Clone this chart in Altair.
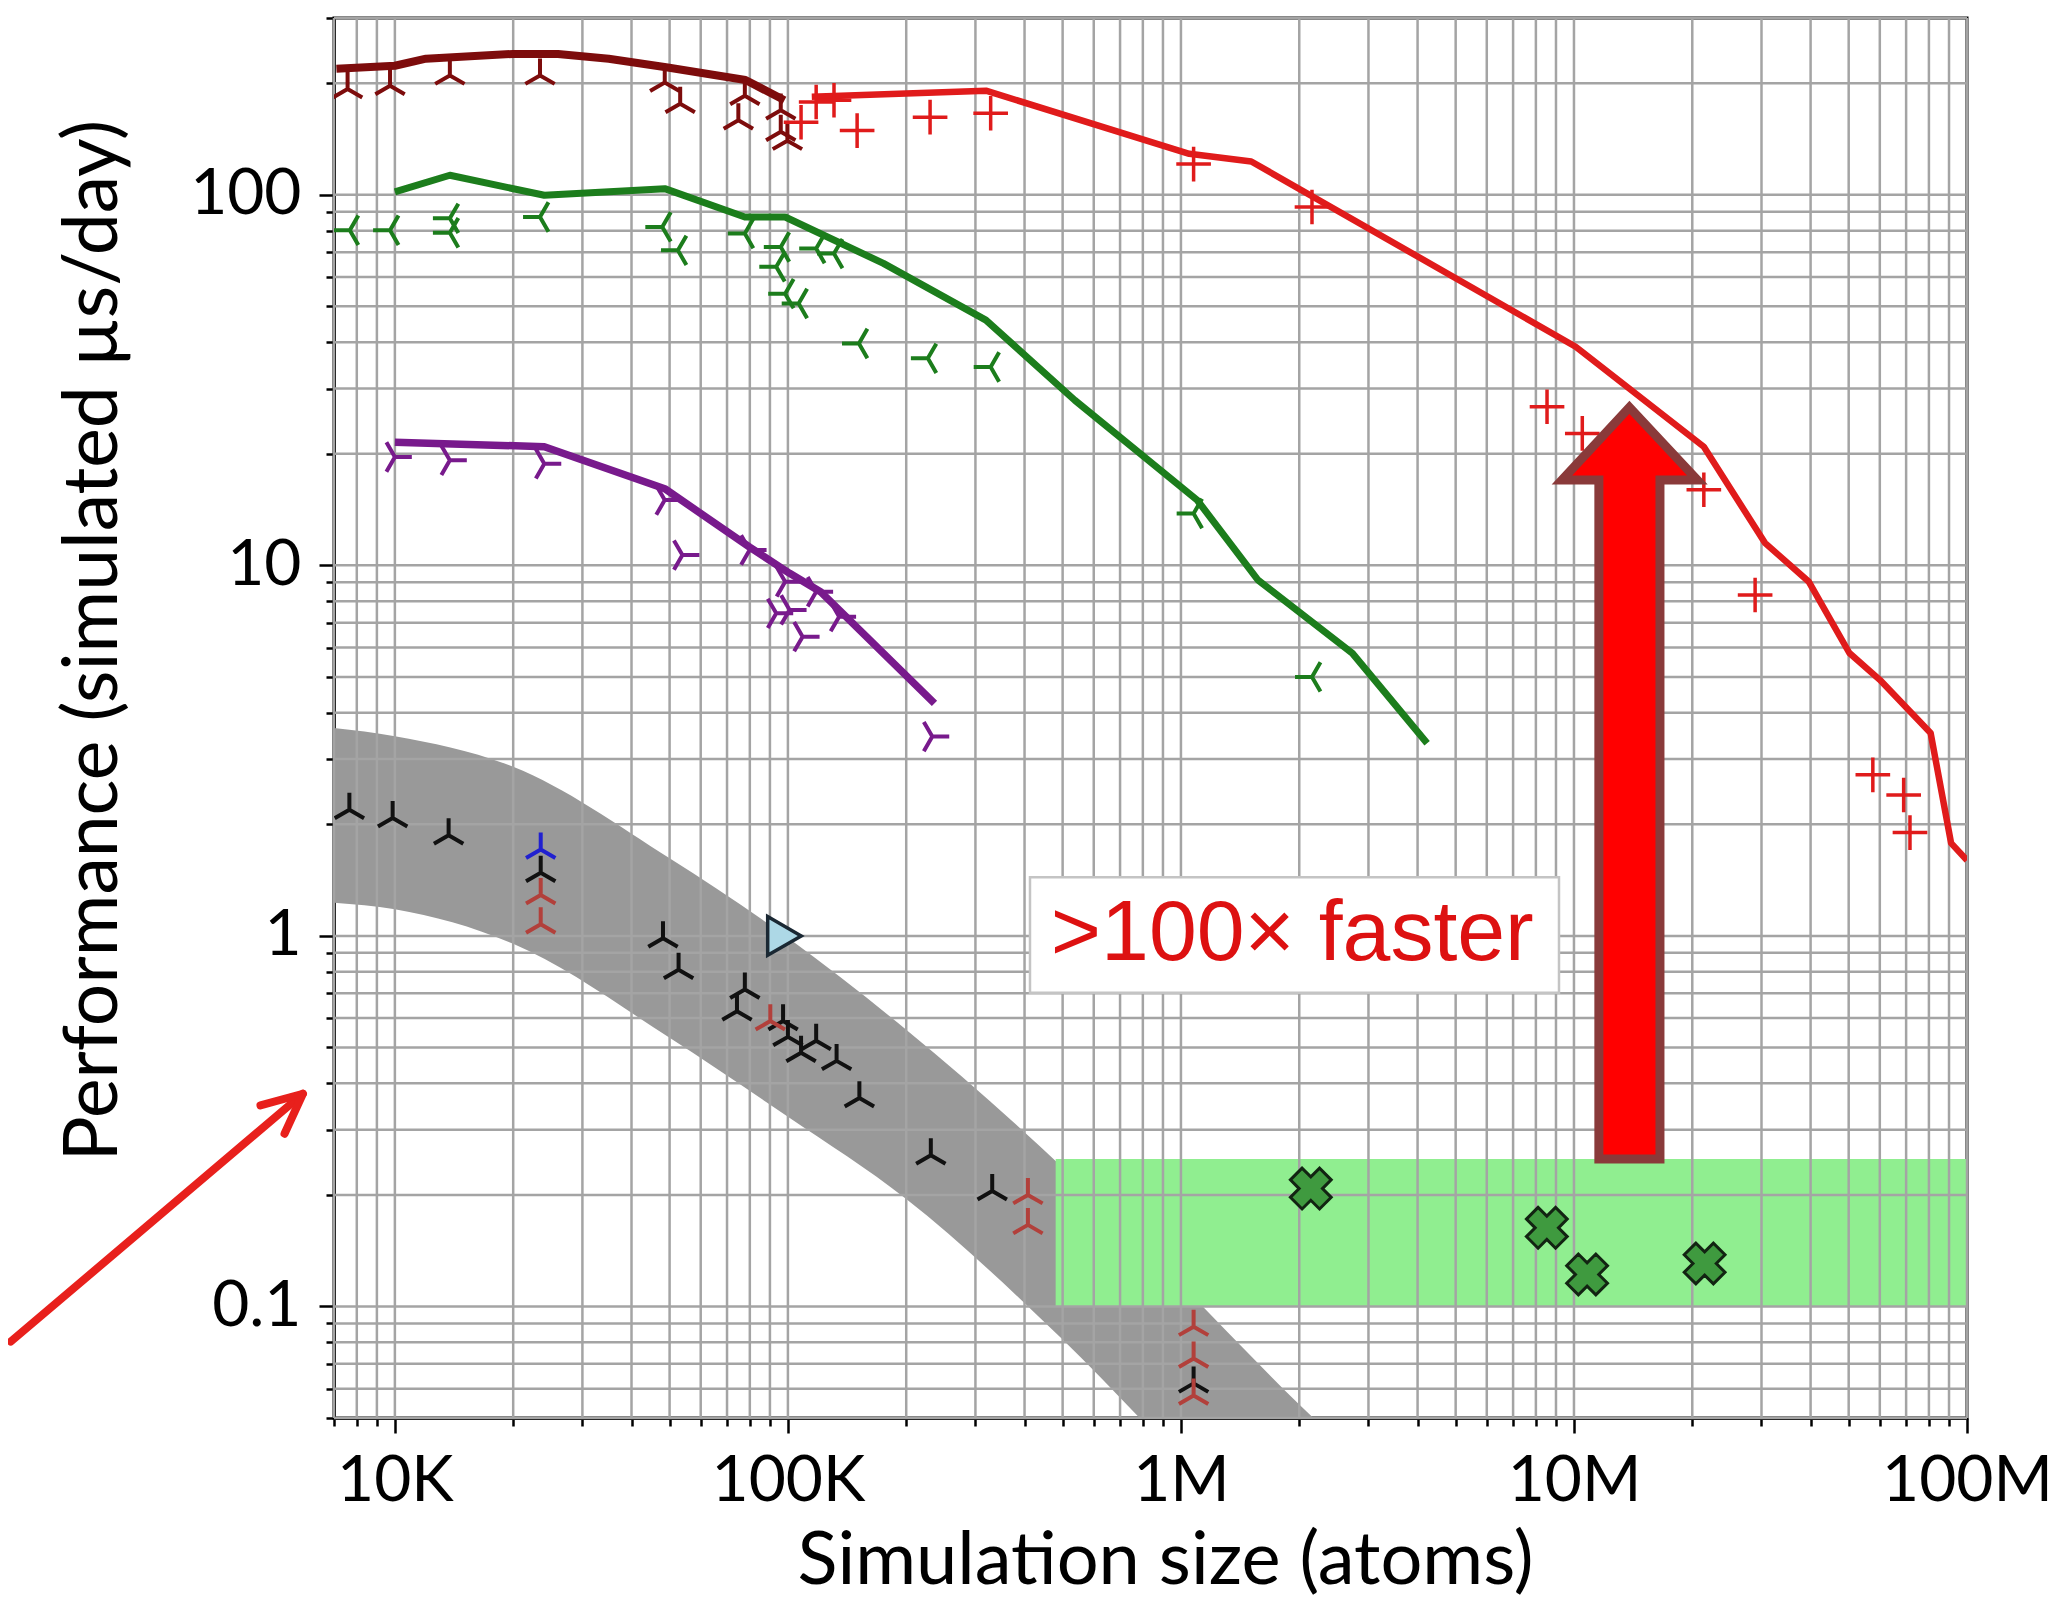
import altair as alt
import pandas as pd
import numpy as np

# ---------------- data ----------------
dark_line_x = [7100, 10000, 12000, 20000, 26000, 35000, 49000, 78000, 98000]
dark_line_y = [219, 223, 233, 240, 240, 233, 221, 204, 180]
dark_pts_x = [7580, 9720, 13800, 23400, 48600, 53200, 77700, 74800, 95900, 95900, 99700]
dark_pts_y = [193, 197, 210, 210, 201, 176, 185, 159, 169, 148, 140]

red_line_x = [115000, 319000, 1050000, 1510000, 10100000, 21400000, 30600000,
              39600000, 50200000, 60000000, 80800000, 91100000, 100000000]
red_line_y = [184, 191, 129, 123, 38.9, 20.9, 11.5, 9.03, 5.80, 4.91, 3.53, 1.78, 1.60]
red_pts_x = [108000, 118000, 131000, 150000, 230000, 328000, 1077000, 2155000,
             8540000, 10500000, 21400000, 28900000, 57600000, 69000000, 71600000]
red_pts_y = [157, 178, 180, 149, 162, 166, 121, 92.7, 26.8, 22.7, 16.0, 8.32, 2.72, 2.40, 1.90]

green_line_x = [10000, 13800, 24000, 48600, 77700, 98400, 175000, 319000, 537000,
                1100000, 1570000, 2730000, 4230000]
green_line_y = [101.8, 112.9, 99.7, 103.9, 87.1, 87.1, 65.3, 45.9, 27.9, 15.0, 9.13, 5.79, 3.31]
green_pts_x = [7680, 9720, 13800, 13800, 23400, 47900, 52500, 77700, 95900, 93400, 98400,
               106500, 118000, 131000, 151600, 227000, 328000, 1077000, 2155000]
green_pts_y = [80.2, 80.2, 86.4, 79.0, 87.1, 81.9, 70.8, 78.6, 72.3, 63.9, 54.1,
               50.9, 71.6, 69.4, 39.7, 36.2, 34.3, 13.8, 5.0]

purple_line_x = [10000, 24000, 48600, 79900, 101000, 121000, 236000]
purple_line_y = [21.5, 20.9, 16.1, 11.2, 9.52, 8.49, 4.24]
purple_pts_x = [10000, 13800, 24000, 48600, 53900, 79900, 98400, 118000, 93400, 101000,
                135000, 109000, 233000]
purple_pts_y = [19.6, 19.2, 18.8, 15.0, 10.66, 11.0, 9.03, 8.49, 7.42, 7.58, 7.27, 6.42, 3.45]

black_pts_x = [7660, 9870, 13700, 23500, 48100, 52700, 77700, 74200, 97200, 100000,
               118000, 108000, 133000, 152000, 231000, 331000, 1077000]
black_pts_y = [2.19, 2.08, 1.87, 1.48, 0.986, 0.810, 0.717, 0.626, 0.589, 0.534,
               0.521, 0.484, 0.46, 0.365, 0.256, 0.205, 0.062]
brown_pts_x = [23500, 23500, 90200, 408000, 408000, 1077000, 1077000, 1077000]
brown_pts_y = [1.29, 1.075, 0.589, 0.20, 0.166, 0.0882, 0.0724, 0.0575]
blue_pts_x = [23500]
blue_pts_y = [1.71]
lightblue_x = [98000]
lightblue_y = [1.0]
greenx_x = [2140000, 8530000, 10800000, 21500000]
greenx_y = [0.208, 0.163, 0.122, 0.1306]

band_x = [7000, 10000, 20000, 50000, 100000, 200000, 500000, 1000000, 2000000, 3000000]
band_hi = [3.64, 3.46, 2.86, 1.62, 0.988, 0.558, 0.237, 0.1146, 0.0544, 0.0363]
band_lo = [1.228, 1.18, 0.952, 0.531, 0.325, 0.195, 0.0814, 0.0387, 0.02, 0.015]

green_band = {"x": [480000], "x2": [100000000], "y": [0.1], "y2": [0.25]}

# annotation: big arrow
arrow_tip = (13840000, 26.7)
arrow_head_base = 17.0
arrow_head_x = (9320000, 20600000)
arrow_shaft_x = (11570000, 16550000)
arrow_bottom = 0.25

# annotation box
box = {"x": [413000], "x2": [9160000], "y": [0.702], "y2": [1.44]}
box_text = {"x": [1920000], "y": [0.862], "t": [">100\u00d7 faster"]}

# small arrow at left
small_arrow = {"x": [1054], "y": [0.0804], "x2": [5834], "y2": [0.375]}

x_grid = [7000, 8000, 9000,
          10000, 20000, 30000, 40000, 50000, 60000, 70000, 80000, 90000,
          100000, 200000, 300000, 400000, 500000, 600000, 700000, 800000, 900000,
          1000000, 2000000, 3000000, 4000000, 5000000, 6000000, 7000000, 8000000, 9000000,
          10000000, 20000000, 30000000, 40000000, 50000000, 60000000, 70000000, 80000000,
          90000000, 100000000]
y_grid = [0.05, 0.06, 0.07, 0.08, 0.09,
          0.1, 0.2, 0.3, 0.4, 0.5, 0.6, 0.7, 0.8, 0.9,
          1, 2, 3, 4, 5, 6, 7, 8, 9,
          10, 20, 30, 40, 50, 60, 70, 80, 90,
          100, 200, 300]
x_major = [10000, 100000, 1000000, 10000000, 100000000]
x_major_labels = ["10K", "100K", "1M", "10M", "100M"]
y_major = [0.1, 1, 10, 100]
y_major_labels = ["0.1", "1", "10", "100"]

# ---------------- helpers ----------------
FONT = "Lato"
x_scale = alt.Scale(type="log", domain=[7000, 100000000], nice=False)
y_scale = alt.Scale(type="log", domain=[0.05, 300], nice=False)


def label_expr(vals, labs):
    return "".join(f"datum.value == {v} ? '{l}' : " for v, l in zip(vals, labs)) + "''"


def tick_cond(vals):
    arr = "[" + ",".join(str(v) for v in vals) + "]"
    return {"condition": {"test": f"indexof({arr}, datum.value) >= 0", "value": 15}, "value": 8}


x_axis = alt.Axis(values=x_grid, labelExpr=label_expr(x_major, x_major_labels),
                  tickSize=tick_cond(x_major), grid=False, labelOverlap=False,
                  labelFlush=False, labelPadding=16, labelFontSize=64, labelFont=FONT,
                  title="Simulation size (atoms)", titleFont=FONT, titleFontSize=74,
                  titleFontWeight="normal", titleBaseline="alphabetic",
                  titleX=831, titleY=165, titleAnchor="middle")
y_axis = alt.Axis(values=y_grid, labelExpr=label_expr(y_major, y_major_labels),
                  tickSize=tick_cond(y_major), grid=False, labelOverlap=False,
                  labelFlush=False, labelPadding=18, labelFontSize=64, labelFont=FONT,
                  title="Performance (simulated \u00b5s/day)", titleFont=FONT,
                  titleFontSize=75, titleFontWeight="normal", titleAngle=270,
                  titleBaseline="alphabetic", titleX=-218, titleY=622, titleAlign="center")

X = alt.X("x:Q", scale=x_scale, axis=x_axis)
Y = alt.Y("y:Q", scale=y_scale, axis=y_axis)


def df(xs, ys):
    return pd.DataFrame({"x": xs, "y": ys})


TRI_UP = "M0,0L0,-1M0,0L-0.866,0.5M0,0L0.866,0.5"
TRI_LEFT = "M0,0L-1,0M0,0L0.5,-0.866M0,0L0.5,0.866"
TRI_RIGHT = "M0,0L1,0M0,0L-0.5,-0.866M0,0L-0.5,0.866"
PLUS = "M-1,0L1,0M0,-1L0,1"
CHEVRON = "M-0.906,-0.423L0,0L-0.906,0.423"

layers = []

# gray band
band_df = pd.DataFrame({"x": band_x, "y": band_lo, "y2": band_hi})
layers.append(alt.Chart(band_df).mark_area(color="#999999", opacity=1, clip=True,
                                           interpolate="monotone")
              .encode(x=X, y=Y, y2="y2:Q"))
# green band
layers.append(alt.Chart(pd.DataFrame(green_band)).mark_rect(color="#90ee90", opacity=1, clip=True)
              .encode(x=X, x2="x2:Q", y=Y, y2="y2:Q"))
# grid lines
layers.append(alt.Chart(pd.DataFrame({"x": x_grid})).mark_rule(color="#a4a4a4", strokeWidth=2.5)
              .encode(x=X))
layers.append(alt.Chart(pd.DataFrame({"y": y_grid})).mark_rule(color="#a4a4a4", strokeWidth=2.5)
              .encode(y=Y))


def line(xs, ys, color, w):
    return alt.Chart(df(xs, ys)).mark_line(color=color, strokeWidth=w, strokeJoin="round",
                                           clip=True).encode(x=X, y=Y)


def pts(xs, ys, shape, color, size=1150, sw=4):
    return alt.Chart(df(xs, ys)).mark_point(shape=shape, filled=False, color=color,
                                            strokeWidth=sw, size=size, opacity=1,
                                            clip=True).encode(x=X, y=Y)


DARK = "#7d0c0c"
RED = "#e01b1b"
GREEN = "#1c7d1c"
PURPLE = "#781a8c"

layers += [
    line(dark_line_x, dark_line_y, DARK, 8),
    line(red_line_x, red_line_y, RED, 6.5),
    line(green_line_x, green_line_y, GREEN, 7),
    line(purple_line_x, purple_line_y, PURPLE, 7.5),
    pts(dark_pts_x, dark_pts_y, TRI_UP, DARK),
    pts(red_pts_x, red_pts_y, PLUS, RED, size=1200, sw=3.5),
    pts(green_pts_x, green_pts_y, TRI_LEFT, GREEN),
    pts(purple_pts_x, purple_pts_y, TRI_RIGHT, PURPLE),
    pts(black_pts_x, black_pts_y, TRI_UP, "#111111"),
    pts(brown_pts_x, brown_pts_y, TRI_UP, "#b2403b"),
    pts(blue_pts_x, blue_pts_y, TRI_UP, "#2020d0"),
]

layers.append(alt.Chart(df(lightblue_x, lightblue_y)).mark_point(
    shape="triangle-right", filled=True, fill="#add8e6", stroke="#1a2833", strokeWidth=3.5,
    size=1500, opacity=1).encode(x=X, y=Y))
layers.append(alt.Chart(df(greenx_x, greenx_y)).mark_point(
    shape="cross", angle=45, filled=True, fill="#3f9a3f", stroke="#122412", strokeWidth=3,
    size=1700, opacity=1).encode(x=X, y=Y))

# big arrow polygon (computed from the annotation anchors)
lx = np.log10
aHL, aHR = lx(arrow_head_x[0]), lx(arrow_head_x[1])
aSL, aSR = lx(arrow_shaft_x[0]), lx(arrow_shaft_x[1])
aC = lx(arrow_tip[0])
lb, lt = lx(arrow_head_base), lx(arrow_tip[1])
uSL = 10 ** (lb + (lt - lb) * (aSL - aHL) / (aC - aHL))
uSR = 10 ** (lb + (lt - lb) * (aHR - aSR) / (aHR - aC))
arrow_df = pd.DataFrame({
    "x": [arrow_head_x[0], arrow_shaft_x[0], arrow_shaft_x[0], arrow_tip[0],
          arrow_shaft_x[1], arrow_shaft_x[1], arrow_head_x[1]],
    "y": [arrow_head_base, arrow_head_base, arrow_bottom, arrow_bottom,
          arrow_bottom, arrow_head_base, arrow_head_base],
    "y2": [arrow_head_base, uSL, uSL, arrow_tip[1], uSR, uSR, arrow_head_base],
})
layers.append(alt.Chart(arrow_df).mark_area(fill="#ff0000", stroke="#8a3a3a", strokeWidth=9,
                                            strokeJoin="miter", opacity=1)
              .encode(x=X, y=Y, y2="y2:Q"))

# text box
layers.append(alt.Chart(pd.DataFrame(box)).mark_rect(fill="white", stroke="#c4c4c4",
                                                     strokeWidth=2.5, opacity=1)
              .encode(x=X, x2="x2:Q", y=Y, y2="y2:Q"))
layers.append(alt.Chart(pd.DataFrame(box_text)).mark_text(
    font="Liberation Sans", fontSize=86, color="#dd1111", align="center",
    baseline="alphabetic").encode(x=X, y=Y, text="t:N"))

# small arrow outside the plot
layers.append(alt.Chart(pd.DataFrame(small_arrow)).mark_rule(
    color="#e8201c", strokeWidth=8, clip=False, strokeCap="round")
    .encode(x=X, y=Y, x2="x2:Q", y2="y2:Q"))
layers.append(alt.Chart(pd.DataFrame({"x": small_arrow["x2"], "y": small_arrow["y2"]})).mark_point(
    shape=CHEVRON, filled=False, stroke="#e8201c", strokeWidth=8, size=7744, angle=319.7,
    opacity=1, clip=False, strokeCap="round", strokeJoin="round").encode(x=X, y=Y))

chart = alt.layer(*layers).properties(
    width=1633, height=1400,
    autosize=alt.AutoSizeParams(type="none"),
    padding={"left": 326, "top": 10, "right": 84, "bottom": 180},
    background="white",
).configure_view(stroke="black", strokeWidth=3).configure_axis(
    domainColor="black", domainWidth=3, tickColor="black", tickWidth=2.5,
    labelColor="black", titleColor="black")

chart.save("out.html", embed_options={"renderer": "svg", "actions": False})
